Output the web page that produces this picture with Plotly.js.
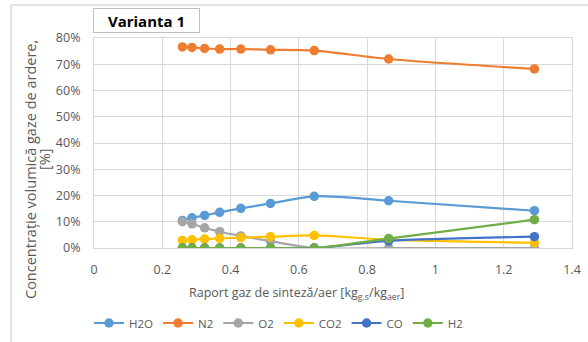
<!DOCTYPE html>
<html>
<head>
<meta charset="utf-8">
<script src="https://cdn.plot.ly/plotly-3.0.1.min.js"></script>
<style>
html,body{margin:0;padding:0;background:#fff;}
#chart{width:588px;height:342px;}
</style>
</head>
<body>
<div id="chart"></div>
<script>
// Data
const ratio = [0.259, 0.287, 0.324, 0.368, 0.430, 0.517, 0.645, 0.863, 1.290];
const H2O = [10.5, 11.5, 12.4, 13.6, 15.1, 17.0, 19.7, 18.0, 14.2];
const N2  = [76.6, 76.4, 76.0, 75.8, 75.8, 75.5, 75.2, 72.0, 68.2];
const O2  = [10.0, 9.2, 7.7, 6.2, 4.6, 2.6, 0.0, 0.0, 0.0];
const CO2 = [2.9, 3.1, 3.4, 3.7, 3.9, 4.3, 4.8, 3.2, 2.0];
const CO  = [0, 0, 0, 0, 0, 0, 0, 2.7, 4.3];
const H2  = [0, 0, 0, 0, 0, 0, 0, 3.6, 10.8];
const seriesNames = ["H2O", "N2", "O2", "CO2", "CO", "H2"];
const seriesValues = [H2O, N2, O2, CO2, CO, H2];
const colors = ["#5B9BD5", "#ED7D31", "#A5A5A5", "#FFC000", "#4472C4", "#70AD47"];
const xTicks = [0, 0.2, 0.4, 0.6, 0.8, 1, 1.2, 1.4];
const xTickText = ["0", "0.2", "0.4", "0.6", "0.8", "1", "1.2", "1.4"];

const font = "Open Sans, Noto Sans, sans-serif";
const gray = "#595959";

const traces = seriesNames.map((n, i) => ({
  type: "scatter",
  mode: "lines+markers",
  name: n,
  x: ratio,
  y: seriesValues[i],
  line: {color: colors[i], width: 2.2, shape: "spline", smoothing: 0.8},
  marker: {color: colors[i], size: 9.5}
}));

const W = 588, H = 342;
const L = 94, R = 16, T = 38, B = 94;
const pw = W - L - R, ph = H - T - B;
const px = v => (v - L) / pw;
const py = v => 1 - (v - T) / ph;

const layout = {
  width: W, height: H,
  margin: {l: L, r: R, t: T, b: B, pad: 0, autoexpand: false},
  paper_bgcolor: "#fff",
  plot_bgcolor: "#fff",
  showlegend: true,
  font: {family: font, color: gray, size: 12},
  xaxis: {
    range: [0, 1.4],
    tickvals: xTicks,
    ticktext: xTickText,
    showgrid: true, gridcolor: "#d9d9d9", gridwidth: 1,
    zeroline: false,
    showline: true, linecolor: "#d9d9d9", linewidth: 1,
    ticks: "", ticklen: 0,
    ticklabelstandoff: 10,
    tickfont: {family: font, size: 12.5, color: gray},
    mirror: true
  },
  yaxis: {
    range: [0, 80],
    dtick: 10,
    ticksuffix: "%",
    showgrid: true, gridcolor: "#d9d9d9", gridwidth: 1,
    zeroline: false,
    showline: true, linecolor: "#d9d9d9", linewidth: 1,
    mirror: true,
    ticks: "",
    ticklabelstandoff: 10,
    tickfont: {family: font, size: 12.5, color: gray}
  },
  legend: {
    orientation: "h",
    x: px(89), xanchor: "left",
    y: py(323), yanchor: "middle",
    font: {family: font, size: 11.5, color: gray},
    itemwidth: 30,
    tracegroupgap: 0,
    bgcolor: "rgba(0,0,0,0)"
  },
  annotations: [
    {
      text: "<b>Varianta 1</b>",
      xref: "paper", yref: "paper",
      x: px(146.5), y: py(20.5),
      xanchor: "center", yanchor: "middle",
      showarrow: false,
      font: {family: font, size: 15, color: "#000"},
      bordercolor: "#bfbfbf", borderwidth: 1,
      width: 103, height: 21, borderpad: 1,
      bgcolor: "#fff"
    },
    {
      text: "Concentrație volumică gaze de ardere,",
      xref: "paper", yref: "paper",
      x: px(30), y: py(170),
      xanchor: "center", yanchor: "middle",
      textangle: -90,
      showarrow: false,
      font: {family: font, size: 14.5, color: gray}
    },
    {
      text: "[%]",
      xref: "paper", yref: "paper",
      x: px(44), y: py(160),
      xanchor: "center", yanchor: "middle",
      textangle: -90,
      showarrow: false,
      font: {family: font, size: 14.5, color: gray}
    },
    {
      text: "Raport gaz de sinteză/aer [kg<sub>g.s</sub>/kg<sub>aer</sub>]",
      xref: "paper", yref: "paper",
      x: px(296), y: py(293),
      xanchor: "center", yanchor: "middle",
      showarrow: false,
      font: {family: font, size: 12.5, color: gray}
    }
  ],
  shapes: [
    {type: "line", xref: "paper", yref: "paper", x0: px(11), x1: px(600), y0: py(5), y1: py(5),
     line: {color: "#d9d9d9", width: 1.5}},
    {type: "line", xref: "paper", yref: "paper", x0: px(11), x1: px(11), y0: py(5), y1: py(350),
     line: {color: "#d9d9d9", width: 1.5}}
  ]
};

Plotly.newPlot("chart", traces, layout, {displayModeBar: false, staticPlot: true});
</script>
</body>
</html>
